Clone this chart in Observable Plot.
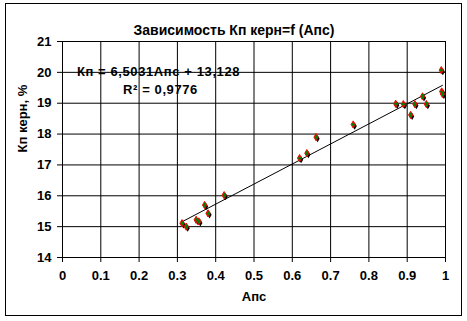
<!DOCTYPE html>
<html>
<head>
<meta charset="utf-8">
<script src="https://cdn.jsdelivr.net/npm/d3@7"></script>
<script src="https://cdn.jsdelivr.net/npm/@observablehq/plot@0.6"></script>
<style>
  html, body { margin: 0; padding: 0; background: #fff; }
  #wrap { position: relative; width: 467px; height: 321px; }
  #border { position: absolute; left: 5px; top: 3px; width: 457px; height: 313px; border: 1px solid #000; box-sizing: border-box; pointer-events: none; }
</style>
</head>
<body>
<div id="wrap"><div id="border"></div></div>
<script>
const title = "Зависимость Кп керн=f (Апс)";
const xLabel = "Апс";
const yLabel = "Кп керн, %";
const equationText = "Кп = 6,5031Апс + 13,128";
const r2Text = "R² = 0,9776";
const slope = 6.5031;
const intercept = 13.128;

const apc = [0.312, 0.323, 0.349, 0.356, 0.371, 0.380, 0.422, 0.619, 0.638, 0.662, 0.759, 0.870, 0.890, 0.909, 0.920, 0.940, 0.950, 0.989, 0.990, 0.992];
const kp  = [15.11, 15.00, 15.22, 15.17, 15.70, 15.43, 16.02, 17.22, 17.38, 17.90, 18.31, 18.98, 18.97, 18.62, 18.97, 19.22, 18.97, 20.07, 19.38, 19.30];

const xTicks = [0, 0.1, 0.2, 0.3, 0.4, 0.5, 0.6, 0.7, 0.8, 0.9, 1];
const yTicks = [14, 15, 16, 17, 18, 19, 20, 21];

const points = apc.map((x, i) => ({x, y: kp[i]}));
const xmin = d3.min(apc), xmax = d3.max(apc);
const trend = [xmin, xmax].map(x => ({x, y: slope * x + intercept}));

const font = "Arial, 'Liberation Sans', sans-serif";

const chart = Plot.plot({
  width: 467,
  height: 321,
  marginLeft: 62,
  marginRight: 22,
  marginTop: 41,
  marginBottom: 64,
  style: {fontFamily: font, fontSize: "13px", fontWeight: "bold", color: "#000", background: "transparent", overflow: "visible"},
  x: {domain: [0, 1], label: null},
  y: {domain: [14, 21], label: null},
  marks: [
    Plot.gridX(xTicks, {stroke: "#000", strokeOpacity: 1}),
    Plot.gridY(yTicks, {stroke: "#000", strokeOpacity: 1}),
    Plot.frame({stroke: "#000"}),
    Plot.axisX({ticks: xTicks, tickSize: 5, tickPadding: 8, tickFormat: d => String(d), label: null, fontWeight: "bold", fontSize: 13}),
    Plot.axisY({ticks: yTicks, tickSize: 5, tickPadding: 6, tickFormat: d => String(d), label: null, fontWeight: "bold", fontSize: 13}),
    Plot.line(trend, {x: "x", y: "y", stroke: "#000", strokeWidth: 1}),
    Plot.dot(points, {x: "x", y: "y", symbol: "diamond", r: 2.2, fill: "#000", dx: 1.5, dy: 1.5}),
    Plot.dot(points, {x: "x", y: "y", symbol: "diamond", r: 2.2, fill: "#008000", stroke: "#ff0000", strokeWidth: 1}),
    Plot.text([title], {frameAnchor: "top", text: d => d, dx: -20, dy: -16, fontSize: 14, fontWeight: "bold"}),
    Plot.text([equationText], {frameAnchor: "top-left", text: d => d, dx: 96, dy: 25, fontSize: 13, fontWeight: "bold", textAnchor: "middle", className: "eq"}),
    Plot.text([r2Text], {frameAnchor: "top-left", text: d => d, dx: 98, dy: 43, fontSize: 13, fontWeight: "bold", textAnchor: "middle", className: "eq"}),
    Plot.text([xLabel], {frameAnchor: "bottom", text: d => d, dy: 43, fontSize: 13, fontWeight: "bold"}),
    Plot.text([yLabel], {frameAnchor: "left", text: d => d, dx: -40, dy: 3, rotate: -90, fontSize: 13, fontWeight: "bold"})
  ]
});
d3.select(chart).selectAll(".eq text").style("letter-spacing", "0.6px");
document.getElementById("wrap").prepend(chart);
</script>
</body>
</html>
